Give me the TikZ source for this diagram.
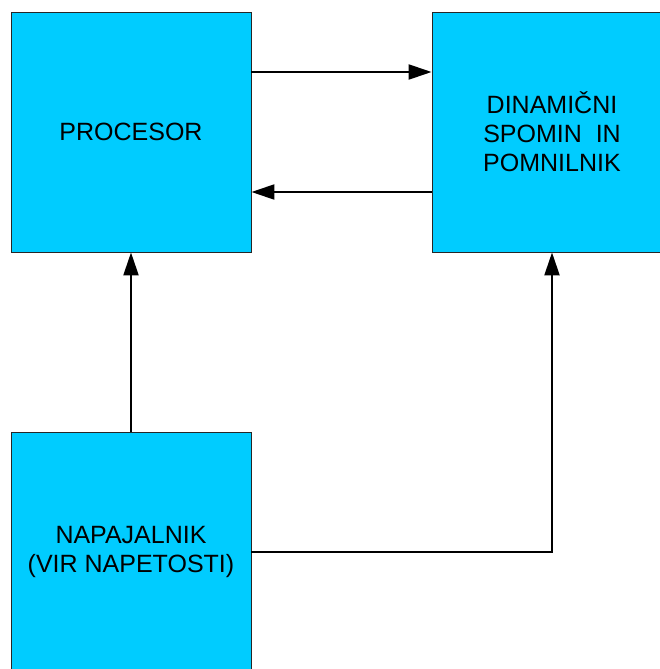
\documentclass[tikz,border=0pt]{standalone}
\usepackage{fontspec}
\setmainfont{Liberation Sans}
\usetikzlibrary{arrows.meta}
\definecolor{boxblue}{HTML}{00CCFF}
\begin{document}
\begin{tikzpicture}[x=1pt,y=-1pt,
  unit/.style={draw=black!85, line width=0.9pt, fill=boxblue,
    minimum width=240pt, minimum height=240pt, inner sep=0pt,
    align=center, font=\fontsize{25}{29}\selectfont},
  link/.style={line width=2.2pt, -{Triangle[length=23pt,width=15pt]}}]
  \useasboundingbox (0,0) rectangle (660,669);
  % functional blocks
  \node[unit] (cpu) at (131,132) {PROCESOR};
  \node[unit] (mem) at (552,132) {DINAMIČNI\\SPOMIN\ \ IN\\POMNILNIK};
  \node[unit] (psu) at (131,552) {NAPAJALNIK\\(VIR NAPETOSTI)};
  % data paths between processor and memory
  \draw[link] ([yshift=60pt]cpu.east) -- ([yshift=60pt]mem.west);
  \draw[link] ([yshift=-60pt]mem.west) -- ([yshift=-60pt]cpu.east);
  % power supply feeds
  \draw[link] (psu.north) -- (cpu.south);
  \draw[link] (psu.east) -| (mem.south);
\end{tikzpicture}
\end{document}
